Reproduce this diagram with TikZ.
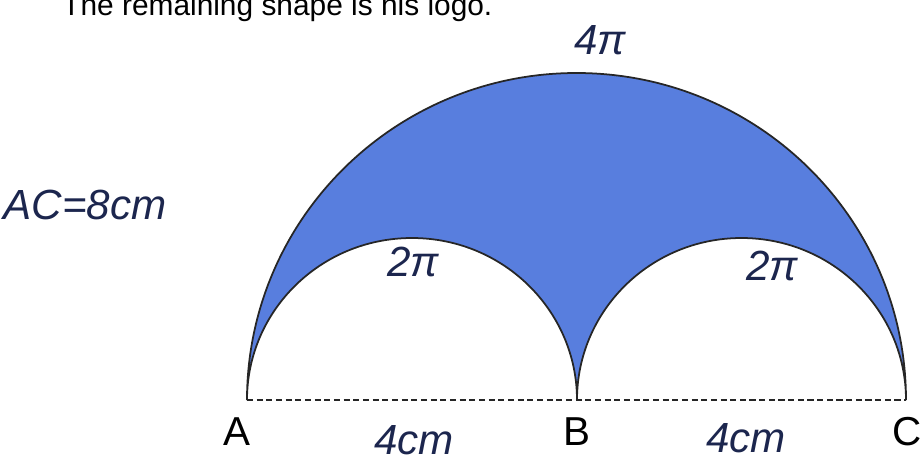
\documentclass[tikz,border=0pt]{standalone}
\usepackage{fontspec}
\setmainfont{Liberation Sans}
\definecolor{logoblue}{RGB}{88,126,222}
\definecolor{pen}{RGB}{28,38,78}

\begin{document}
\begin{tikzpicture}[x=0.02cm,y=-0.02cm,
  hand/.style={text=pen,font=\itshape\fontsize{24}{26}\selectfont,inner sep=0pt},
  pt/.style={font=\fontsize{23}{25}\selectfont,inner sep=0pt}
]
\useasboundingbox (0,0) rectangle (920,464);
\node[anchor=base west,font=\fontsize{17}{20}\selectfont,inner sep=0pt] (title) at (62,15) {The remaining shape is his logo.};

\coordinate (A) at (247,400);
\coordinate (B) at (577,400);
\coordinate (C) at (906,400);

% shaded logo: big half circle minus the two small ones
\filldraw[fill=logoblue,draw=black!85,line width=1pt]
  (A) arc[start angle=180,end angle=360,x radius=329.5,y radius=327]
  arc[start angle=0,end angle=-180,x radius=164.5,y radius=162]
  arc[start angle=0,end angle=-180,x radius=165,y radius=162] -- cycle;
\draw[line width=0.8pt,dash pattern=on 3.5pt off 2pt,black!85] (A) -- (B) -- (C);

\node[hand] (big) at (600,40) {4π};
\node[hand] (smallL) at (413,262) {2π};
\node[hand] (smallR) at (772,266) {2π};
\node[hand] (ac) at (85,205) {AC=8cm};
\node[hand] (ab) at (414,440) {4cm};
\node[hand] (bc) at (746,438) {4cm};

\node[pt] (la) at (237,432) {A};
\node[pt] (lb) at (577,432) {B};
\node[pt] (lc) at (907,432) {C};
\end{tikzpicture}
\end{document}
